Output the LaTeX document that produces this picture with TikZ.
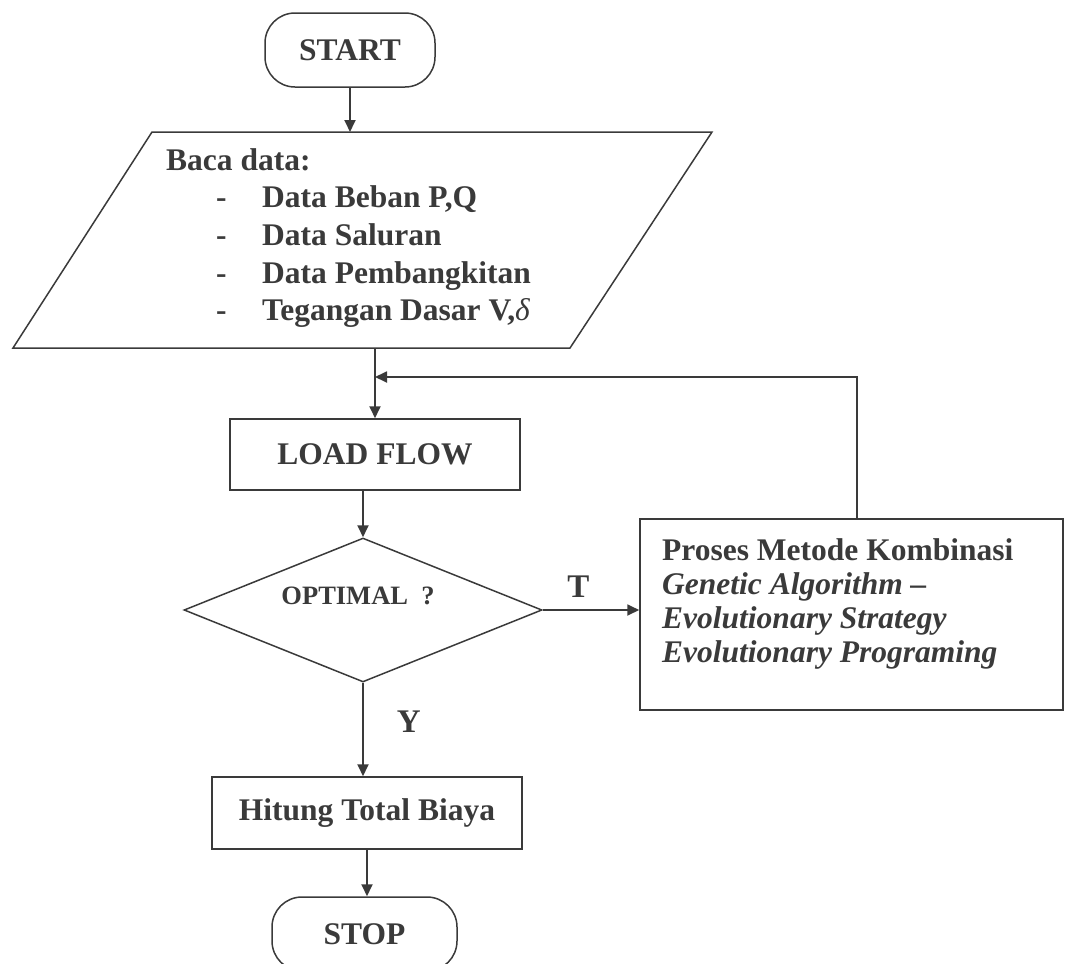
\documentclass[tikz,border=0pt]{standalone}
\usepackage{fontspec}
\setmainfont{Liberation Serif}
\usetikzlibrary{shapes.geometric,arrows.meta}

\definecolor{ink}{HTML}{3A3A3A}

\tikzset{
  x=1pt, y=-1pt,
  every node/.style={text=ink, inner sep=0pt},
  bodyfont/.style={font=\fontsize{31.5pt}{37.5pt}\selectfont\bfseries},
  shapeline/.style={draw=ink, line width=1.5pt},
  terminal/.style={shapeline, bodyfont, rectangle, rounded corners=30pt,
    minimum width=170pt, minimum height=74pt},
  procbox/.style={shapeline, bodyfont, rectangle},
  flow/.style={draw=ink, line width=1.8pt,
    -{Triangle[length=12pt,width=11pt]}},
  labelfont/.style={font=\fontsize{33pt}{36pt}\selectfont\bfseries},
}

\begin{document}
\begin{tikzpicture}
\useasboundingbox (0,0) rectangle (1066,964);

% terminal
\node[terminal] (start) at (350,50) {START};

% input parallelogram
\coordinate (readNW) at (152,132);
\coordinate (readNE) at (712,132);
\coordinate (readSE) at (570,348);
\coordinate (readSW) at (13,348);
\draw[shapeline, line join=miter] (readNW) -- (readNE) -- (readSE) -- (readSW) -- cycle;
\node[bodyfont, anchor=base west] (readhead) at (166,170) {Baca data:};
\node[bodyfont, anchor=base west] (readA) at (216,207) {\makebox[46pt][l]{-}Data Beban P,Q};
\node[bodyfont, anchor=base west] (readB) at (216,245) {\makebox[46pt][l]{-}Data Saluran};
\node[bodyfont, anchor=base west] (readC) at (216,283) {\makebox[46pt][l]{-}Data Pembangkitan};
\node[bodyfont, anchor=base west] (readD) at (216,320) {\makebox[46pt][l]{-}Tegangan Dasar V,{\mdseries\itshape δ}};

\node[procbox, minimum width=290pt, minimum height=71pt] (load) at (375,454.5) {LOAD FLOW};

% decision
\node[shapeline, diamond, aspect=2.5, inner sep=2pt, minimum width=358pt, minimum height=144pt]
      (dec) at (363,610) {};
\node[font=\fontsize{26.5pt}{30pt}\selectfont\bfseries] (dectext) at (358,596) {OPTIMAL\ \ ?};

% optimisation method box
\node[shapeline, rectangle, minimum width=423pt, minimum height=191pt]
      (proc) at (851.5,614.5) {};
\node[font=\fontsize{31.5pt}{34pt}\selectfont\bfseries, anchor=base west, align=left]
      (proctext) at (662,662) {Proses Metode Kombinasi\\
      \itshape Genetic Algorithm –\\
      \itshape Evolutionary Strategy\\
      \itshape Evolutionary Programing};

\node[procbox, minimum width=310pt, minimum height=72pt] (hit) at (367,813) {Hitung Total Biaya};

\node[terminal, minimum width=185pt] (stop) at (364.5,934) {STOP};

% connectors
\coordinate (joint) at (375,377);
\draw[flow] (start.south) -- (start.south |- readNW);
\draw[flow] (load.north |- readSW) -- (load.north);
\draw[flow] (dec.north |- load.south) -- (dec.north);
\draw[flow] (dec.east) -- (dec.east -| proc.west)
  node[pos=0.37, above=12pt, labelfont] (tlabel) {T};
\draw[flow] (dec.south) -- (dec.south |- hit.north)
  node[pos=0.42, right=33pt, labelfont] (ylabel) {Y};
\draw[flow] (hit.south) -- (hit.south |- stop.north);
\draw[flow] ([xshift=5.5pt]proc.north) |- (joint);
\end{tikzpicture}
\end{document}
